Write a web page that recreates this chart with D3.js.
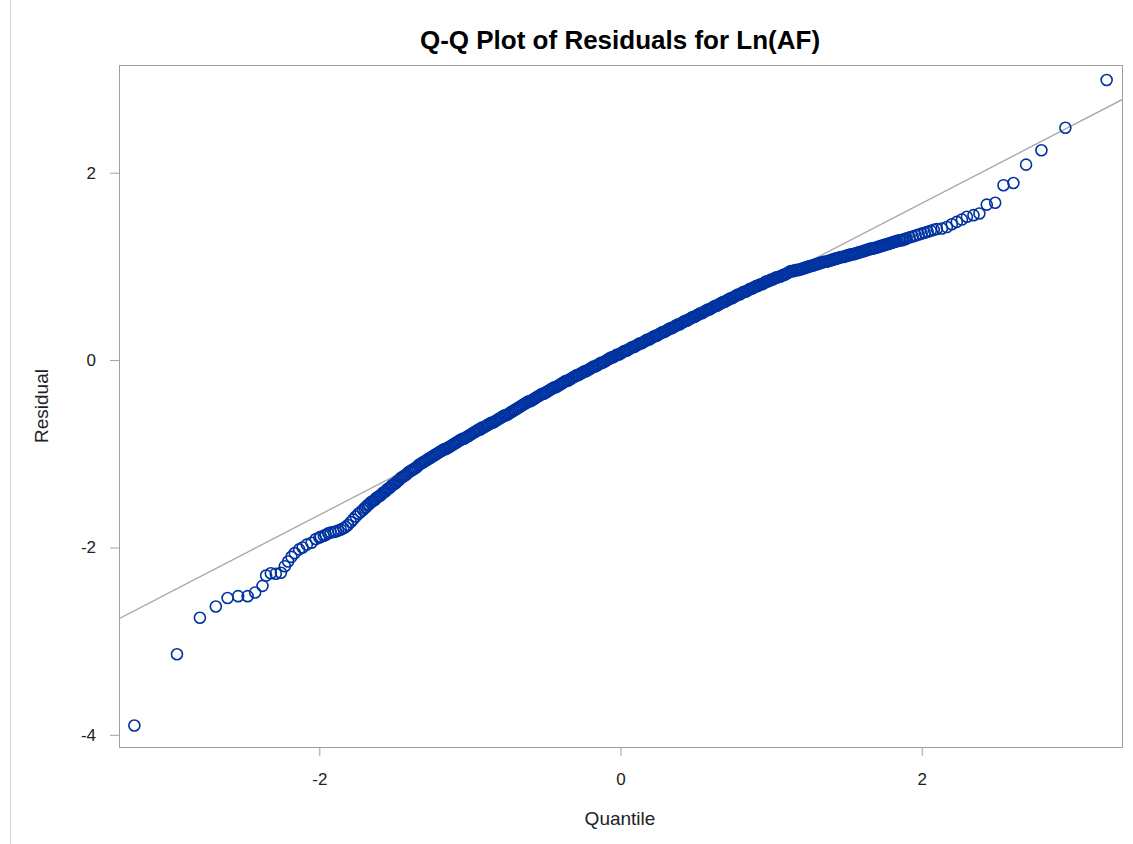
<!DOCTYPE html>
<html>
  <head>
    <meta charset="utf-8">
    <title>Q-Q Plot of Residuals for Ln(AF)</title>
    <script src="https://cdn.jsdelivr.net/npm/d3@7"></script>
    <style>
      body { margin: 0; background: #fff; }
      text { font-family: "Liberation Sans", Arial, sans-serif; }
    </style>
  </head>
  <body>
    <svg width="1133" height="844"></svg>
    <script>

      // Texts and ticks
      var title = "Q-Q Plot of Residuals for Ln(AF)";
      var xLabel = "Quantile";
      var yLabel = "Residual";
      var xTicks = [-2, 0, 2];
      var yTicks = [-4, -2, 0, 2];

      // Reference line (end points)
      var refQuantile = [-3.33, 3.33];
      var refResidual = [-2.76, 2.78];

      // Lower tail, single circles
      var lowQuantile = [-3.228, -2.945, -2.793, -2.687, -2.609, -2.539, -2.476, -2.426, -2.377, -2.353,
                         -2.322, -2.289, -2.255, -2.229, -2.207, -2.185, -2.163, -2.134, -2.111, -2.083,
                         -2.052, -2.023, -2.000, -1.990, -1.970, -1.957, -1.940, -1.924, -1.905, -1.891,
                         -1.875, -1.857, -1.840, -1.824, -1.810, -1.791, -1.775, -1.758, -1.740, -1.725, -1.710];
      var lowResidual = [-3.90, -3.14, -2.75, -2.63, -2.54, -2.52, -2.52, -2.48, -2.41, -2.30,
                         -2.275, -2.28, -2.27, -2.20, -2.15, -2.10, -2.06, -2.02, -2.00, -1.97,
                         -1.95, -1.91, -1.895, -1.885, -1.875, -1.865, -1.85, -1.84, -1.835, -1.83,
                         -1.82, -1.81, -1.795, -1.78, -1.76, -1.73, -1.70, -1.67, -1.64, -1.62, -1.60];

      // Dense middle part of the curve
      var midQuantile = [
        -1.70, -1.69, -1.68, -1.67, -1.66, -1.65, -1.64, -1.63, -1.62, -1.61,
        -1.60, -1.59, -1.58, -1.57, -1.56, -1.55, -1.54, -1.53, -1.52, -1.51,
        -1.50, -1.49, -1.48, -1.47, -1.46, -1.45, -1.44, -1.43, -1.42, -1.41,
        -1.40, -1.39, -1.38, -1.37, -1.36, -1.35, -1.34, -1.33, -1.32, -1.31,
        -1.30, -1.29, -1.28, -1.27, -1.26, -1.25, -1.24, -1.23, -1.22, -1.21,
        -1.20, -1.19, -1.18, -1.17, -1.16, -1.15, -1.14, -1.13, -1.12, -1.11,
        -1.10, -1.09, -1.08, -1.07, -1.06, -1.05, -1.04, -1.03, -1.02, -1.01,
        -1.00, -0.99, -0.98, -0.97, -0.96, -0.95, -0.94, -0.93, -0.92, -0.91,
        -0.90, -0.89, -0.88, -0.87, -0.86, -0.85, -0.84, -0.83, -0.82, -0.81,
        -0.80, -0.79, -0.78, -0.77, -0.76, -0.75, -0.74, -0.73, -0.72, -0.71,
        -0.70, -0.69, -0.68, -0.67, -0.66, -0.65, -0.64, -0.63, -0.62, -0.61,
        -0.60, -0.59, -0.58, -0.57, -0.56, -0.55, -0.54, -0.53, -0.52, -0.51,
        -0.50, -0.49, -0.48, -0.47, -0.46, -0.45, -0.44, -0.43, -0.42, -0.41,
        -0.40, -0.39, -0.38, -0.37, -0.36, -0.35, -0.34, -0.33, -0.32, -0.31,
        -0.30, -0.29, -0.28, -0.27, -0.26, -0.25, -0.24, -0.23, -0.22, -0.21,
        -0.20, -0.19, -0.18, -0.17, -0.16, -0.15, -0.14, -0.13, -0.12, -0.11,
        -0.10, -0.09, -0.08, -0.07, -0.06, -0.05, -0.04, -0.03, -0.02, -0.01,
        0.00, 0.01, 0.02, 0.03, 0.04, 0.05, 0.06, 0.07, 0.08, 0.09,
        0.10, 0.11, 0.12, 0.13, 0.14, 0.15, 0.16, 0.17, 0.18, 0.19,
        0.20, 0.21, 0.22, 0.23, 0.24, 0.25, 0.26, 0.27, 0.28, 0.29,
        0.30, 0.31, 0.32, 0.33, 0.34, 0.35, 0.36, 0.37, 0.38, 0.39,
        0.40, 0.41, 0.42, 0.43, 0.44, 0.45, 0.46, 0.47, 0.48, 0.49,
        0.50, 0.51, 0.52, 0.53, 0.54, 0.55, 0.56, 0.57, 0.58, 0.59,
        0.60, 0.61, 0.62, 0.63, 0.64, 0.65, 0.66, 0.67, 0.68, 0.69,
        0.70, 0.71, 0.72, 0.73, 0.74, 0.75, 0.76, 0.77, 0.78, 0.79,
        0.80, 0.81, 0.82, 0.83, 0.84, 0.85, 0.86, 0.87, 0.88, 0.89,
        0.90, 0.91, 0.92, 0.93, 0.94, 0.95, 0.96, 0.97, 0.98, 0.99,
        1.00, 1.01, 1.02, 1.03, 1.04, 1.05, 1.06, 1.07, 1.08, 1.09,
        1.10, 1.11, 1.12, 1.13, 1.14, 1.15, 1.16, 1.17, 1.18, 1.19,
        1.20, 1.21, 1.22, 1.23, 1.24, 1.25, 1.26, 1.27, 1.28, 1.29,
        1.30, 1.31, 1.32, 1.33, 1.34, 1.35, 1.36, 1.37, 1.38, 1.39,
        1.40, 1.41, 1.42, 1.43, 1.44, 1.45, 1.46, 1.47, 1.48, 1.49,
        1.50, 1.51, 1.52, 1.53, 1.54, 1.55, 1.56, 1.57, 1.58, 1.59,
        1.60, 1.61, 1.62, 1.63, 1.64, 1.65, 1.66, 1.67, 1.68, 1.69,
        1.70, 1.71, 1.72, 1.73, 1.74, 1.75, 1.76, 1.77, 1.78, 1.79,
        1.80, 1.81, 1.82, 1.83, 1.84, 1.85, 1.86, 1.87, 1.88, 1.89,
        1.90, 1.92, 1.94, 1.96, 1.98, 2.00, 2.02, 2.04, 2.06, 2.08];
      var midResidual = [
        -1.58, -1.57, -1.55, -1.54, -1.52, -1.51, -1.50, -1.49, -1.47, -1.46,
        -1.45, -1.44, -1.42, -1.41, -1.40, -1.38, -1.37, -1.36, -1.34, -1.33,
        -1.32, -1.31, -1.29, -1.28, -1.26, -1.25, -1.24, -1.23, -1.22, -1.20,
        -1.19, -1.18, -1.17, -1.16, -1.15, -1.14, -1.12, -1.11, -1.10, -1.09,
        -1.08, -1.07, -1.06, -1.05, -1.04, -1.03, -1.02, -1.01, -1.00, -0.99,
        -0.98, -0.97, -0.96, -0.95, -0.95, -0.94, -0.93, -0.92, -0.91, -0.90,
        -0.89, -0.88, -0.87, -0.86, -0.85, -0.84, -0.84, -0.83, -0.82, -0.81,
        -0.80, -0.79, -0.78, -0.77, -0.76, -0.75, -0.74, -0.74, -0.72, -0.72,
        -0.71, -0.70, -0.69, -0.68, -0.67, -0.67, -0.66, -0.65, -0.64, -0.63,
        -0.62, -0.61, -0.60, -0.59, -0.59, -0.58, -0.57, -0.56, -0.55, -0.54,
        -0.53, -0.52, -0.51, -0.50, -0.49, -0.48, -0.47, -0.46, -0.45, -0.44,
        -0.44, -0.43, -0.42, -0.41, -0.40, -0.39, -0.38, -0.37, -0.36, -0.36,
        -0.35, -0.34, -0.33, -0.32, -0.31, -0.30, -0.29, -0.29, -0.28, -0.27,
        -0.26, -0.25, -0.24, -0.23, -0.22, -0.22, -0.21, -0.20, -0.19, -0.18,
        -0.17, -0.16, -0.16, -0.15, -0.14, -0.13, -0.12, -0.12, -0.11, -0.10,
        -0.09, -0.08, -0.07, -0.07, -0.06, -0.05, -0.04, -0.03, -0.03, -0.02,
        -0.01, 0.00, 0.01, 0.02, 0.03, 0.03, 0.04, 0.05, 0.06, 0.06,
        0.07, 0.08, 0.09, 0.10, 0.10, 0.11, 0.12, 0.13, 0.14, 0.14,
        0.15, 0.16, 0.17, 0.18, 0.18, 0.19, 0.20, 0.21, 0.22, 0.22,
        0.23, 0.24, 0.25, 0.26, 0.26, 0.27, 0.28, 0.29, 0.30, 0.30,
        0.31, 0.32, 0.33, 0.34, 0.34, 0.35, 0.36, 0.37, 0.38, 0.38,
        0.39, 0.40, 0.41, 0.42, 0.42, 0.43, 0.44, 0.45, 0.46, 0.46,
        0.47, 0.48, 0.49, 0.50, 0.50, 0.51, 0.52, 0.53, 0.54, 0.54,
        0.55, 0.56, 0.57, 0.58, 0.58, 0.59, 0.60, 0.61, 0.62, 0.62,
        0.63, 0.64, 0.65, 0.66, 0.66, 0.67, 0.68, 0.69, 0.70, 0.70,
        0.71, 0.72, 0.73, 0.73, 0.74, 0.75, 0.76, 0.76, 0.77, 0.78,
        0.79, 0.79, 0.80, 0.81, 0.81, 0.82, 0.83, 0.84, 0.84, 0.85,
        0.86, 0.86, 0.87, 0.88, 0.88, 0.89, 0.89, 0.90, 0.91, 0.91,
        0.92, 0.93, 0.94, 0.95, 0.95, 0.95, 0.96, 0.96, 0.96, 0.97,
        0.97, 0.98, 0.98, 0.99, 0.99, 1.00, 1.00, 1.01, 1.01, 1.02,
        1.02, 1.03, 1.03, 1.04, 1.04, 1.05, 1.05, 1.05, 1.06, 1.06,
        1.07, 1.07, 1.08, 1.08, 1.09, 1.09, 1.10, 1.10, 1.10, 1.11,
        1.11, 1.12, 1.12, 1.13, 1.13, 1.13, 1.14, 1.14, 1.15, 1.15,
        1.16, 1.16, 1.17, 1.17, 1.18, 1.18, 1.19, 1.19, 1.19, 1.20,
        1.20, 1.21, 1.21, 1.22, 1.22, 1.23, 1.23, 1.24, 1.24, 1.25,
        1.25, 1.26, 1.26, 1.27, 1.27, 1.28, 1.28, 1.28, 1.29, 1.29,
        1.30, 1.31, 1.32, 1.33, 1.34, 1.35, 1.36, 1.37, 1.38, 1.39];

      // Upper tail, single circles
      var highQuantile = [2.100, 2.134, 2.167, 2.200, 2.233, 2.267, 2.300, 2.344, 2.383, 2.432,
                          2.488, 2.543, 2.609, 2.693, 2.795, 2.954, 3.228];
      var highResidual = [1.40, 1.405, 1.42, 1.45, 1.475, 1.50, 1.53, 1.547, 1.565, 1.66,
                          1.68, 1.867, 1.89, 2.087, 2.24, 2.48, 2.99];

      // Put the points together
      var points = [];
      [[lowQuantile, lowResidual], [midQuantile, midResidual], [highQuantile, highResidual]].forEach(function(s) {
        for (var i = 0; i < s[0].length; i++) {
          points.push({q: s[0][i], r: s[1][i]});
        }
      });

      // plot area (don't call it "top", that one belongs to window)
      var plotLeft = 119, plotRight = 1122, plotTop = 65, plotBottom = 747;

      var xScale = d3.scaleLinear().domain([-3.33, 3.33]).range([plotLeft, plotRight]);
      var yScale = d3.scaleLinear().domain([-4.13, 3.15]).range([plotBottom, plotTop]);

      var svg = d3.select("svg");

      // thin border on the left of the page
      svg.append("line")
        .attr("x1", 10.5).attr("x2", 10.5)
        .attr("y1", 0).attr("y2", 844)
        .attr("stroke", "#d4d4d4");

      // Title
      svg.append("text")
        .text(title)
        .attr("x", 620)
        .attr("y", 49)
        .attr("text-anchor", "middle")
        .style("font-size", "26px")
        .style("font-weight", "bold")
        .attr("fill", "#000");

      // X axis
      var xAxis = svg.append("g")
        .attr("transform", "translate(0," + plotBottom + ")")
        .call(d3.axisBottom(xScale).tickValues(xTicks).tickSize(9).tickPadding(17)
          .tickFormat(function(d) { return d; }));
      xAxis.select(".domain").remove();
      xAxis.selectAll("line").attr("stroke", "#a0a0a0");
      xAxis.selectAll("text").style("font-size", "17px").attr("fill", "#222");

      // Y axis
      var yAxis = svg.append("g")
        .attr("transform", "translate(" + plotLeft + ",0)")
        .call(d3.axisLeft(yScale).tickValues(yTicks).tickSize(9).tickPadding(14)
          .tickFormat(function(d) { return d; }));
      yAxis.select(".domain").remove();
      yAxis.selectAll("line").attr("stroke", "#a0a0a0");
      yAxis.selectAll("text").style("font-size", "17px").attr("fill", "#222");

      // Axis labels
      svg.append("text")
        .text(xLabel)
        .attr("x", 620)
        .attr("y", 825)
        .attr("text-anchor", "middle")
        .style("font-size", "19px")
        .attr("fill", "#222");

      svg.append("text")
        .text(yLabel)
        .attr("transform", "translate(48,406) rotate(-90)")
        .attr("text-anchor", "middle")
        .style("font-size", "19px")
        .attr("fill", "#222");

      // clip for the plot area
      svg.append("clipPath").attr("id", "plotclip")
        .append("rect")
        .attr("x", plotLeft).attr("y", plotTop)
        .attr("width", plotRight - plotLeft).attr("height", plotBottom - plotTop);

      // Reference line
      svg.append("line")
        .attr("clip-path", "url(#plotclip)")
        .attr("x1", xScale(refQuantile[0])).attr("y1", yScale(refResidual[0]))
        .attr("x2", xScale(refQuantile[1])).attr("y2", yScale(refResidual[1]))
        .attr("stroke", "#a6a6a6")
        .attr("stroke-width", 1.3);

      // The circles
      svg.append("g")
        .attr("clip-path", "url(#plotclip)")
        .selectAll("circle")
        .data(points)
        .enter()
        .append("circle")
        .attr("cx", function(d) { return xScale(d.q); })
        .attr("cy", function(d) { return yScale(d.r); })
        .attr("r", 5.5)
        .attr("fill", "none")
        .attr("stroke", "#0033a0")
        .attr("stroke-width", 1.6);

      // Frame of the plot area
      svg.append("rect")
        .attr("x", plotLeft + 0.5).attr("y", plotTop + 0.5)
        .attr("width", plotRight - plotLeft).attr("height", plotBottom - plotTop)
        .attr("fill", "none")
        .attr("stroke", "#a0a0a0");

    </script>
  </body>
</html>
